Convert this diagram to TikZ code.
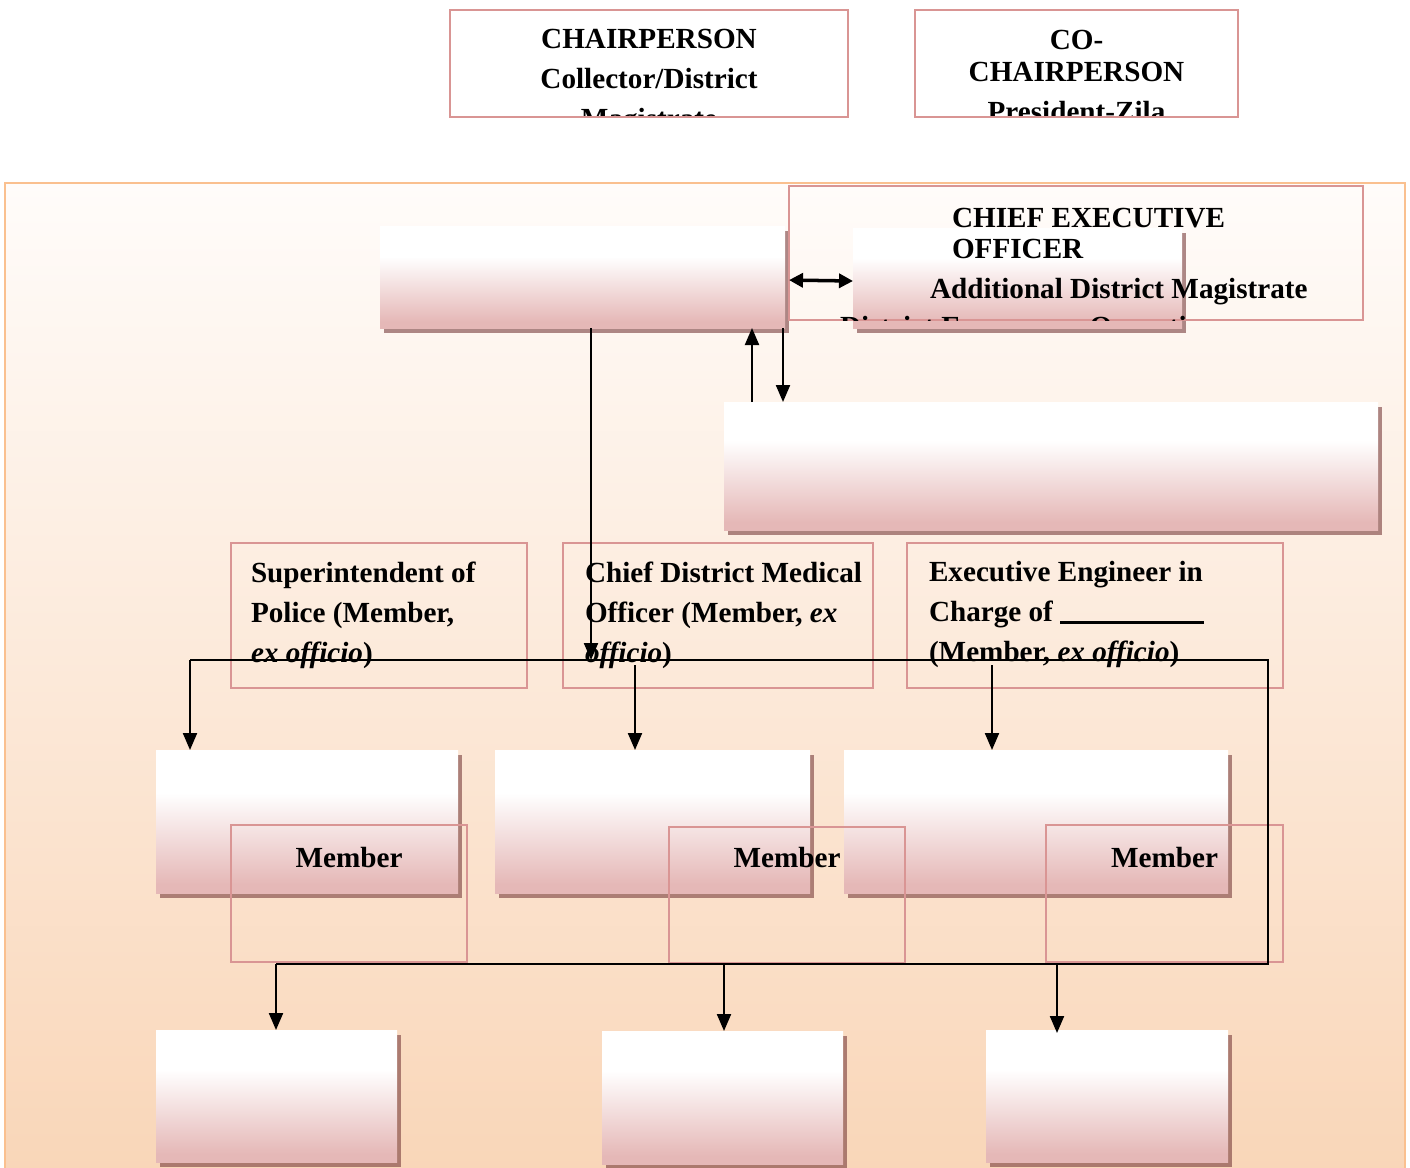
\documentclass[tikz,border=0pt]{standalone}
\usepackage{fontspec}
\setmainfont{Liberation Serif}
\usepackage{tikz}
\usetikzlibrary{arrows.meta, positioning, shadows, calc}
\definecolor{framepink}{RGB}{217,149,148}
\definecolor{boxpink}{RGB}{229,184,183}
\definecolor{shadowred}{RGB}{120,60,60}
\definecolor{paneltop}{RGB}{255,252,250}
\definecolor{panelbot}{RGB}{249,214,184}
\definecolor{panelline}{RGB}{250,192,143}
\pgfdeclareverticalshading{boxfade}{100bp}{color(0bp)=(boxpink); color(28bp)=(boxpink); color(60bp)=(white); color(100bp)=(white)}
\pgfdeclareverticalshading{panelfade}{100bp}{color(0bp)=(panelbot); color(25bp)=(panelbot); color(75bp)=(paneltop); color(100bp)=(paneltop)}

\begin{document}
\begin{tikzpicture}[
    x=0.1mm, y=-0.1mm,
    every node/.style={inner sep=0pt, outer sep=0pt, anchor=north west},
    fadebox/.style={rectangle, shading=boxfade, drop shadow={shadow xshift=0.4mm, shadow yshift=-0.45mm, fill=shadowred, opacity=0.6}},
    framebox/.style={rectangle, draw=framepink, line width=0.7pt},
    txt/.style={font=\fontsize{8.3}{11.4}\selectfont\bfseries, align=left},
    link/.style={line width=0.6pt},
    arr/.style={line width=0.6pt, -{Triangle[length=1.7mm, width=1.4mm]}}
]
    \useasboundingbox (0,0) rectangle (1410,1167);

    \node[rectangle, draw=panelline, line width=0.8pt, shading=panelfade, minimum width=140mm, minimum height=99mm] (panel) at (5,183) {};

    \node[framebox, minimum width=39.8mm, minimum height=10.7mm] (chair) at (450,10) {};
    \begin{scope}
        \clip (chair.north west) rectangle ([yshift=0.15mm]chair.south east);
        \node[txt, align=center, anchor=north] (chairtxt) at ([yshift=-1.9mm]chair.north) {CHAIRPERSON\\Collector/District\\Magistrate};
    \end{scope}
    \node[framebox, minimum width=32.3mm, minimum height=10.7mm] (cochair) at (915,10) {};
    \begin{scope}
        \clip (cochair.north west) rectangle ([yshift=0.15mm]cochair.south east);
        \node[txt, align=center, anchor=north] (cochairtxt) at ([yshift=-2.05mm]cochair.north) {CO-\\[-2.3pt]CHAIRPERSON\\President-Zila};
    \end{scope}

    \node[fadebox, minimum width=40.5mm, minimum height=10.2mm] (dist) at (380,226) {};
    \node[fadebox, minimum width=32.9mm, minimum height=10mm] (deoc) at (853,228) {};
    \node[framebox, minimum width=57.4mm, minimum height=13.4mm] (ceo) at (789,186) {};
    \node[txt] (ceohead) at (952,208) {CHIEF EXECUTIVE\\[-2.6pt]OFFICER};
    \node[txt, anchor=base west] (ceosub) at (930,298) {Additional District Magistrate};
    \begin{scope}
        \clip (ceo.north west) rectangle (ceo.south east);
        \node[txt, anchor=base west] (ceocut) at (840,336) {District Emergency Operations};
    \end{scope}
    \node[fadebox, minimum width=65.4mm, minimum height=12.8mm] (ops) at (724,402) {};

    \draw[line width=1pt, {Triangle[length=1.4mm, width=1.4mm]}-{Triangle[length=1.4mm, width=1.4mm]}, shorten <=0.4mm]
        ([yshift=-0.3mm]dist.east) -- ([yshift=-0.3mm]deoc.west);
    \draw[arr] ([xshift=2.8mm]ops.north west) -- ([xshift=2.8mm]ops.north west |- dist.south);
    \draw[arr] ([xshift=-0.2mm]dist.south east) -- ([xshift=-0.2mm]dist.south east |- ops.north);

    \node[framebox, minimum width=29.6mm, minimum height=14.5mm] (sp) at (231,543) {};
    \node[txt] (sptxt) at ([xshift=2mm, yshift=-1.85mm]sp.north west) {Superintendent of\\Police (Member,\\\textit{ex officio})};
    \node[framebox, minimum width=31mm, minimum height=14.5mm] (cdmo) at (563,543) {};
    \node[txt] (cdmotxt) at ([xshift=2.2mm, yshift=-1.85mm]cdmo.north west) {Chief District Medical\\Officer (Member, \textit{ex}\\\textit{officio})};
    \node[framebox, minimum width=37.6mm, minimum height=14.5mm] (ee) at (907,543) {};
    \node[txt] (eetxt) at ([xshift=2.2mm, yshift=-1.85mm]ee.north west) {Executive Engineer in\\Charge of \rule[-0.6pt]{41pt}{0.9pt}\\(Member, \textit{ex officio})};

    \node[fadebox, minimum width=30.2mm, minimum height=14.3mm] (grpA) at (156,750) {};
    \node[fadebox, minimum width=31.5mm, minimum height=14.3mm] (grpB) at (495,750) {};
    \node[fadebox, minimum width=38.4mm, minimum height=14.3mm] (grpC) at (844,750) {};
    \node[framebox, minimum width=23.6mm, minimum height=13.7mm] (memA) at (231,825) {};
    \node[framebox, minimum width=23.6mm, minimum height=13.6mm] (memB) at (669,827) {};
    \node[framebox, minimum width=23.7mm, minimum height=13.7mm] (memC) at (1046,825) {};
    \node[txt, anchor=base] (memAtxt) at ([yshift=-4.2mm]memA.north) {Member};
    \node[txt, anchor=base] (memBtxt) at ([yshift=-4mm]memB.north) {Member};
    \node[txt, anchor=base] (memCtxt) at ([yshift=-4.2mm]memC.north) {Member};

    \node[fadebox, minimum width=24.1mm, minimum height=13.2mm] (subA) at (156,1030) {};
    \node[fadebox, minimum width=24.1mm, minimum height=13.3mm] (subB) at (602,1031) {};
    \node[fadebox, minimum width=24.2mm, minimum height=13.2mm] (subC) at (986,1030) {};

    \coordinate (busL) at (190,660);
    \coordinate (busR) at (1268,660);
    \coordinate (lowR) at (1268,964);
    \coordinate (lowL) at (276,964);
    \coordinate (dropB) at (635,665);
    \coordinate (dropC) at (992,665);
    \coordinate (lowB) at (724,964);
    \coordinate (lowC) at (1057,964);

    \draw[arr] ([xshift=0.85mm]dist.south) -- ([xshift=0.85mm]dist.south |- busL);
    \draw[link] (busL) -- (busR) -- (lowR) -- (lowL);
    \draw[arr] (busL) -- (busL |- grpA.north);
    \draw[arr] (dropB) -- (dropB |- grpB.north);
    \draw[arr] (dropC) -- (dropC |- grpC.north);
    \draw[arr] (lowL) -- (lowL |- subA.north);
    \draw[arr] (lowB) -- (lowB |- subB.north);
    \draw[arr] (lowC) -- ([yshift=-0.3mm]lowC |- subC.north);

\end{tikzpicture}
\end{document}
